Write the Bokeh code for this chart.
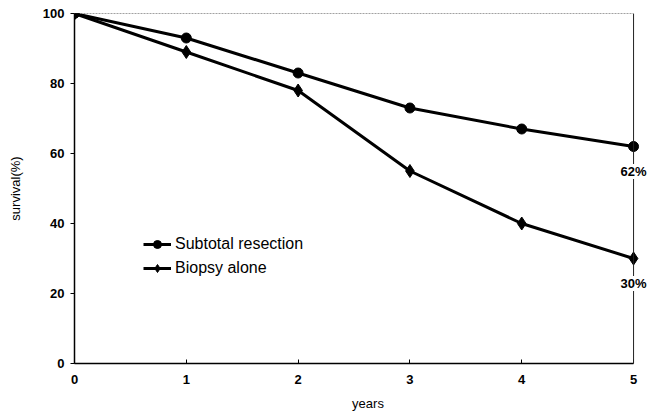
from bokeh.plotting import figure
from bokeh.models import Label, Legend, LegendItem, Range1d, FixedTicker, Span
from bokeh.embed import file_html
from bokeh.resources import INLINE

years = [0, 1, 2, 3, 4, 5]
subtotal = [100, 93, 83, 73, 67, 62]
biopsy = [100, 89, 78, 55, 40, 30]
y_ticks = [0, 20, 40, 60, 80, 100]
end_labels = ["62%", "30%"]

FONT = "Liberation Sans"

p = figure(width=661, height=414, output_backend="svg", toolbar_location=None,
           x_range=Range1d(0, 5.25), y_range=Range1d(0, 100),
           min_border_left=74, min_border_right=0, min_border_top=13, min_border_bottom=51)
p.background_fill_color = "white"
p.border_fill_color = "white"
p.outline_line_color = None
p.xgrid.visible = False
p.ygrid.visible = False

p.xaxis.ticker = FixedTicker(ticks=years)
p.yaxis.ticker = FixedTicker(ticks=y_ticks)
p.xaxis.bounds = (years[0], years[-1])
for ax in (p.xaxis[0], p.yaxis[0]):
    ax.axis_line_color = "black"
    ax.axis_line_width = 1.5
    ax.major_tick_line_color = "black"
    ax.minor_tick_line_color = None
    ax.major_label_text_font = FONT
    ax.major_label_text_font_size = "13px"
    ax.major_label_text_font_style = "bold"
    ax.major_label_text_color = "black"
    ax.axis_label_text_font = FONT
    ax.axis_label_text_font_size = "13px"
    ax.axis_label_text_font_style = "normal"
    ax.axis_label_text_color = "black"

p.xaxis.major_tick_in = 4
p.xaxis.major_tick_out = 0
p.xaxis.major_label_standoff = 11
p.xaxis.axis_label = "years"
p.xaxis.axis_label_standoff = 9

p.yaxis.major_tick_in = 0
p.yaxis.major_tick_out = 4
p.yaxis.major_label_standoff = 6
p.yaxis.axis_label = "survival(%)"
p.yaxis.axis_label_standoff = 17

# frame: right border at last year, top border dotted
p.add_layout(Span(location=years[-1], dimension="height", line_color="#222222", line_width=1))
p.segment(x0=[years[0]], y0=[y_ticks[-1]], x1=[years[-1]], y1=[y_ticks[-1]],
          line_color="#444444", line_width=1, line_dash="2 1")

l1 = p.line(years, subtotal, line_color="black", line_width=3)
m1 = p.scatter(years, subtotal, marker="circle", size=10, fill_color="black", line_color="black")
l2 = p.line(years, biopsy, line_color="black", line_width=3)
m2 = p.scatter(years, biopsy, marker="diamond", size=13, fill_color="black", line_color="black")

legend = Legend(items=[LegendItem(label="Subtotal resection", renderers=[l1, m1]),
                       LegendItem(label="Biopsy alone", renderers=[l2, m2])],
                location=(69, 85), border_line_color=None, background_fill_alpha=0,
                padding=0, margin=0, spacing=4, glyph_width=28, label_standoff=4,
                label_text_font=FONT, label_text_font_size="16px", label_text_color="black")
p.add_layout(legend, "center")

for val, txt in zip([subtotal[-1], biopsy[-1]], end_labels):
    p.add_layout(Label(x=years[-1], y=val, text=txt, y_offset=-25,
                       text_align="center", text_baseline="middle",
                       text_font=FONT, text_font_size="13px", text_font_style="bold",
                       text_color="black", background_fill_color="white"))

open("out.html", "w").write(file_html(p, INLINE))
